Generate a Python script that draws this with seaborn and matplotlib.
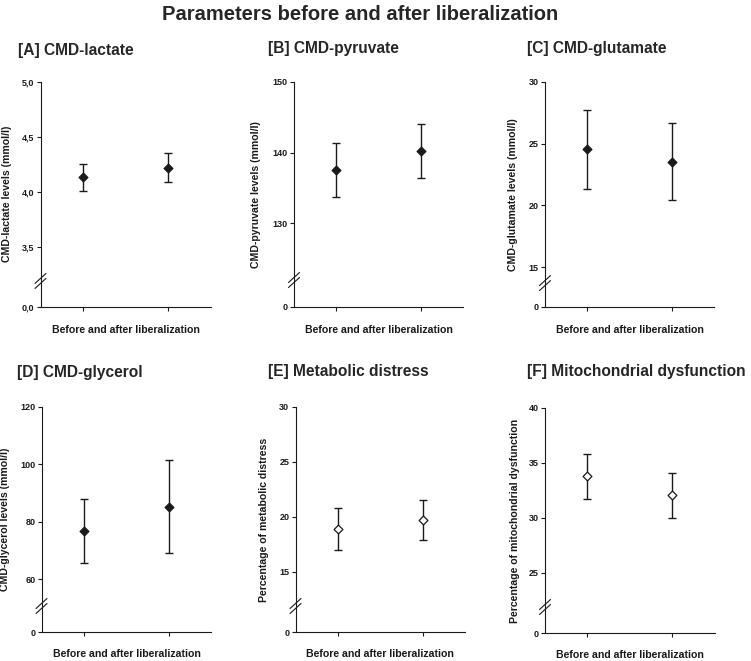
import numpy as np
import pandas as pd
import matplotlib
matplotlib.use("Agg")
import matplotlib.pyplot as plt
import seaborn as sns

# values (mean and error bar half-width)
groups = ["Before", "After"]
lactate_mean = [4.13, 4.22]
lactate_err = [0.12, 0.13]
pyruvate_mean = [137.5, 140.2]
pyruvate_err = [3.85, 3.8]
glutamate_mean = [24.55, 23.55]
glutamate_err = [3.2, 3.1]
glycerol_mean = [76.7, 85.2]
glycerol_err = [11.1, 16.2]
distress_mean = [18.9, 19.7]
distress_err = [1.93, 1.85]
mito_mean = [33.75, 32.05]
mito_err = [2.05, 2.05]

titles = ["[A] CMD-lactate", "[B] CMD-pyruvate", "[C] CMD-glutamate",
          "[D] CMD-glycerol", "[E] Metabolic distress", "[F] Mitochondrial dysfunction"]
ylabels = ["CMD-lactate levels (mmol/l)", "CMD-pyruvate levels (mmol/l)",
           "CMD-glutamate levels (mmol/l)", "CMD-glycerol levels (mmol/l)",
           "Percentage of metabolic distress", "Percentage of mitochondrial dysfunction"]
yticks = [[0, 3.5, 4.0, 4.5, 5.0], [0, 130, 140, 150], [0, 15, 20, 25, 30],
          [0, 60, 80, 100, 120], [0, 15, 20, 25, 30], [0, 25, 30, 35, 40]]
yticklabels = [["0,0", "3,5", "4,0", "4,5", "5,0"], ["0", "130", "140", "150"],
               ["0", "15", "20", "25", "30"], ["0", "60", "80", "100", "120"],
               ["0", "15", "20", "25", "30"], ["0", "25", "30", "35", "40"]]
means = [lactate_mean, pyruvate_mean, glutamate_mean, glycerol_mean, distress_mean, mito_mean]
errs = [lactate_err, pyruvate_err, glutamate_err, glycerol_err, distress_err, mito_err]
filled = [True, True, True, True, False, False]

# layout: axes boxes in pixels (left, top, width, height), break (lo, gap, top)
W, H = 751, 661
boxes = [(40.5, 81.7, 170, 225), (294, 81.7, 169, 225), (545, 81.7, 169, 225),
         (41.5, 406.7, 170, 225.6), (295.5, 406.7, 169.5, 225.6), (545, 407.7, 169.5, 225.6)]
breaks = [(3.19, 0.234, 5.0), (122.0, 3.77, 150), (13.73, 1.91, 30),
          (50.6, 9.16, 120), (11.88, 2.39, 30), (21.88, 2.39, 40)]
ylab_x = [12, 261, 518, 10, 269, 520]
title_pos = [(18, 50), (268, 48), (527, 48), (17, 373), (268, 372), (527, 372)]


def broken(lo, gap):
    def fwd(y):
        y = np.asarray(y, float)
        return np.where(y >= lo, y - lo + gap, y * gap / lo)

    def inv(v):
        v = np.asarray(v, float)
        return np.where(v >= gap, v - gap + lo, v * lo / gap)
    return fwd, inv


sns.set_style("ticks")
plt.rcParams["font.family"] = ["Liberation Sans", "DejaVu Sans"]
plt.rcParams["font.weight"] = "bold"
ink = "#1a1a1a"

fig = plt.figure(figsize=(W / 100, H / 100), dpi=100)
fig.text(360 / W, 1 - 14 / H, "Parameters before and after liberalization",
         ha="center", va="center", fontsize=14.5, fontweight="bold")

for i in range(6):
    l, t, w, h = boxes[i]
    ax = fig.add_axes([l / W, 1 - (t + h) / H, w / W, h / H])
    df = pd.DataFrame({"group": groups, "mean": means[i], "err": errs[i]})

    lo, gap, top = breaks[i]
    ax.set_yscale("function", functions=broken(lo, gap))

    ax.errorbar(df["group"], df["mean"], yerr=df["err"], fmt="none", ecolor=ink,
                elinewidth=1.0, capsize=3.2, capthick=1.0, zorder=2)
    sns.scatterplot(data=df, x="group", y="mean", ax=ax, marker="D", s=20,
                    color=ink if filled[i] else "white", edgecolor=ink,
                    linewidth=0.9, zorder=3)

    ax.set_xlim(-0.5, 1.5)
    ax.set_ylim(0, top)
    ax.set_yticks(yticks[i])
    ax.set_yticklabels(yticklabels[i])
    ax.set_xticks([0, 1])
    ax.set_xticklabels(["", ""])
    ax.tick_params(axis="both", length=3, width=0.8, color=ink, pad=1.5,
                   labelsize=6.5, labelcolor=ink)
    for lab in ax.get_yticklabels():
        lab.set_fontweight("bold")
    sns.despine(ax=ax)
    for side in ["left", "bottom"]:
        ax.spines[side].set_linewidth(0.8)
        ax.spines[side].set_color(ink)

    ax.set_xlabel("Before and after liberalization", fontsize=7.6,
                  fontweight="bold", color=ink)
    ax.xaxis.set_label_coords(0.5, -0.082 if i < 3 else -0.072)
    ax.set_ylabel(ylabels[i], fontsize=7.6, fontweight="bold", color=ink)
    ax.yaxis.set_label_coords((ylab_x[i] - l) / w, 0.5)

    # axis break marks on the y spine
    yb = gap / (top - lo + gap)
    dx, dy = 5.5 / w, 5 / h
    for off in (-2.5 / h, 2.5 / h):
        ax.plot([-dx, dx], [yb + off - dy, yb + off + dy], color=ink, lw=0.8,
                transform=ax.transAxes, clip_on=False)

    tx, ty = title_pos[i]
    fig.text(tx / W, 1 - ty / H, titles[i], ha="left", va="center",
             fontsize=11.2, fontweight="bold")

fig.savefig("out.png", dpi=100)
